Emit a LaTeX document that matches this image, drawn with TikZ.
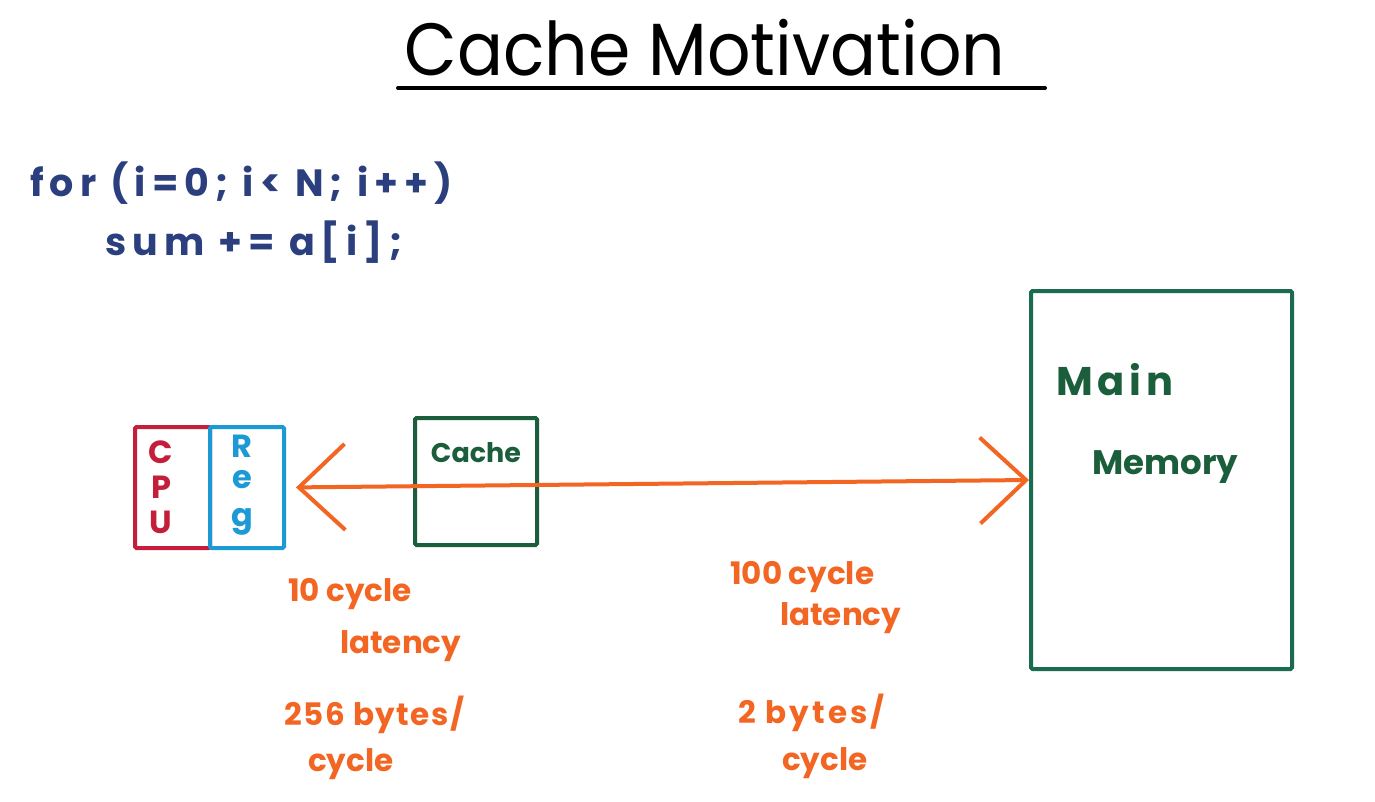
\documentclass[tikz,border=0pt]{standalone}
\usepackage{fontspec}
\setmainfont{Poppins}
\usetikzlibrary{arrows.meta}
\definecolor{navy}{HTML}{2B3F7E}
\definecolor{cpured}{HTML}{C41E3A}
\definecolor{regblue}{HTML}{1C9AD6}
\definecolor{orng}{HTML}{F26522}
\definecolor{cgreen}{HTML}{1B5E3B}
\definecolor{mgreen}{HTML}{1A6B50}
\begin{document}
\begin{tikzpicture}[x=1pt,y=-1pt,
  box/.style={draw, line width=4pt, rounded corners=1.5pt, inner sep=0pt, anchor=north west},
  letter/.style={font=\fontsize{32}{32}\selectfont\bfseries, inner sep=0pt},
  orangetext/.style={text=orng, font=\fontsize{31}{31}\selectfont\bfseries, inner sep=0pt, anchor=west},
  codetext/.style={text=navy, font=\fontsize{38}{38}\selectfont\bfseries\addfontfeature{LetterSpace=16}, inner sep=0pt, anchor=west},
  arr/.style={draw=orng, line width=4pt, line cap=round,
    {Straight Barb[length=46pt,width=86pt,line width=4pt]}-{Straight Barb[length=46pt,width=86pt,line width=4pt]}}]
\useasboundingbox (0,0) rectangle (1375,801);
\fill[white] (0,0) rectangle (1375,801);
% title
\node[inner sep=0pt, font=\fontsize{74}{74}\selectfont] (title) at (705,48) {\scalebox{0.92}[1]{Cache Motivation}};
\coordinate (ul1) at (398,88);
\coordinate (ul2) at (1045,88);
\draw[line width=4pt, line cap=round] (ul1) -- (ul2);
% code
\node[codetext] (code1) at (30,183) {for (i=0; i< N; i++)};
\node[codetext] (code2) at (105,242) {sum += a[i];};
% CPU and Reg
\node[box, draw=cpured, minimum width=75pt, minimum height=121pt] (cpu) at (133,425) {};
\node[box, draw=regblue, minimum width=74pt, minimum height=121pt] (reg) at (208,425) {};
\node[letter, text=cpured] (c1) at (161,452) {C};
\node[letter, text=cpured] (c2) at (161,487) {P};
\node[letter, text=cpured] (c3) at (161,522) {U};
\node[letter, text=regblue] (r1) at (242,446) {R};
\node[letter, text=regblue] (r2) at (242,480) {e};
\node[letter, text=regblue] (r3) at (242,522) {g};
% cache
\node[box, draw=cgreen, minimum width=122pt, minimum height=127pt] (cache) at (413,416) {};
\node[inner sep=0pt, text=cgreen, font=\fontsize{27}{27}\selectfont\bfseries] (cachet) at (476,453) {Cache};
% main memory
\node[box, draw=mgreen, minimum width=261pt, minimum height=378pt] (mem) at (1029,289) {};
\node[inner sep=0pt, anchor=west, text=cgreen, font=\fontsize{40}{40}\selectfont\bfseries\addfontfeature{LetterSpace=12}] (mm1) at (1056,380) {Main};
\node[inner sep=0pt, anchor=west, text=cgreen, font=\fontsize{34}{34}\selectfont\bfseries] (mm2) at (1092,467) {Memory};
% arrow
\draw[arr, shorten <=10pt] (reg.east) -- (mem.west);
% labels
\node[orangetext] (l1) at (288,594) {10 cycle};
\node[orangetext] (l2) at (340,646) {latency};
\node[orangetext] (l3) at (284,715) {\addfontfeature{LetterSpace=5}256 bytes/};
\node[orangetext] (l4) at (308,764) {cycle};
\node[orangetext] (l5) at (730,577) {100 cycle};
\node[orangetext] (l6) at (780,618) {latency};
\node[orangetext] (l7) at (738,713) {\addfontfeature{LetterSpace=10}2 bytes/};
\node[orangetext] (l8) at (782,763) {cycle};
\end{tikzpicture}
\end{document}
